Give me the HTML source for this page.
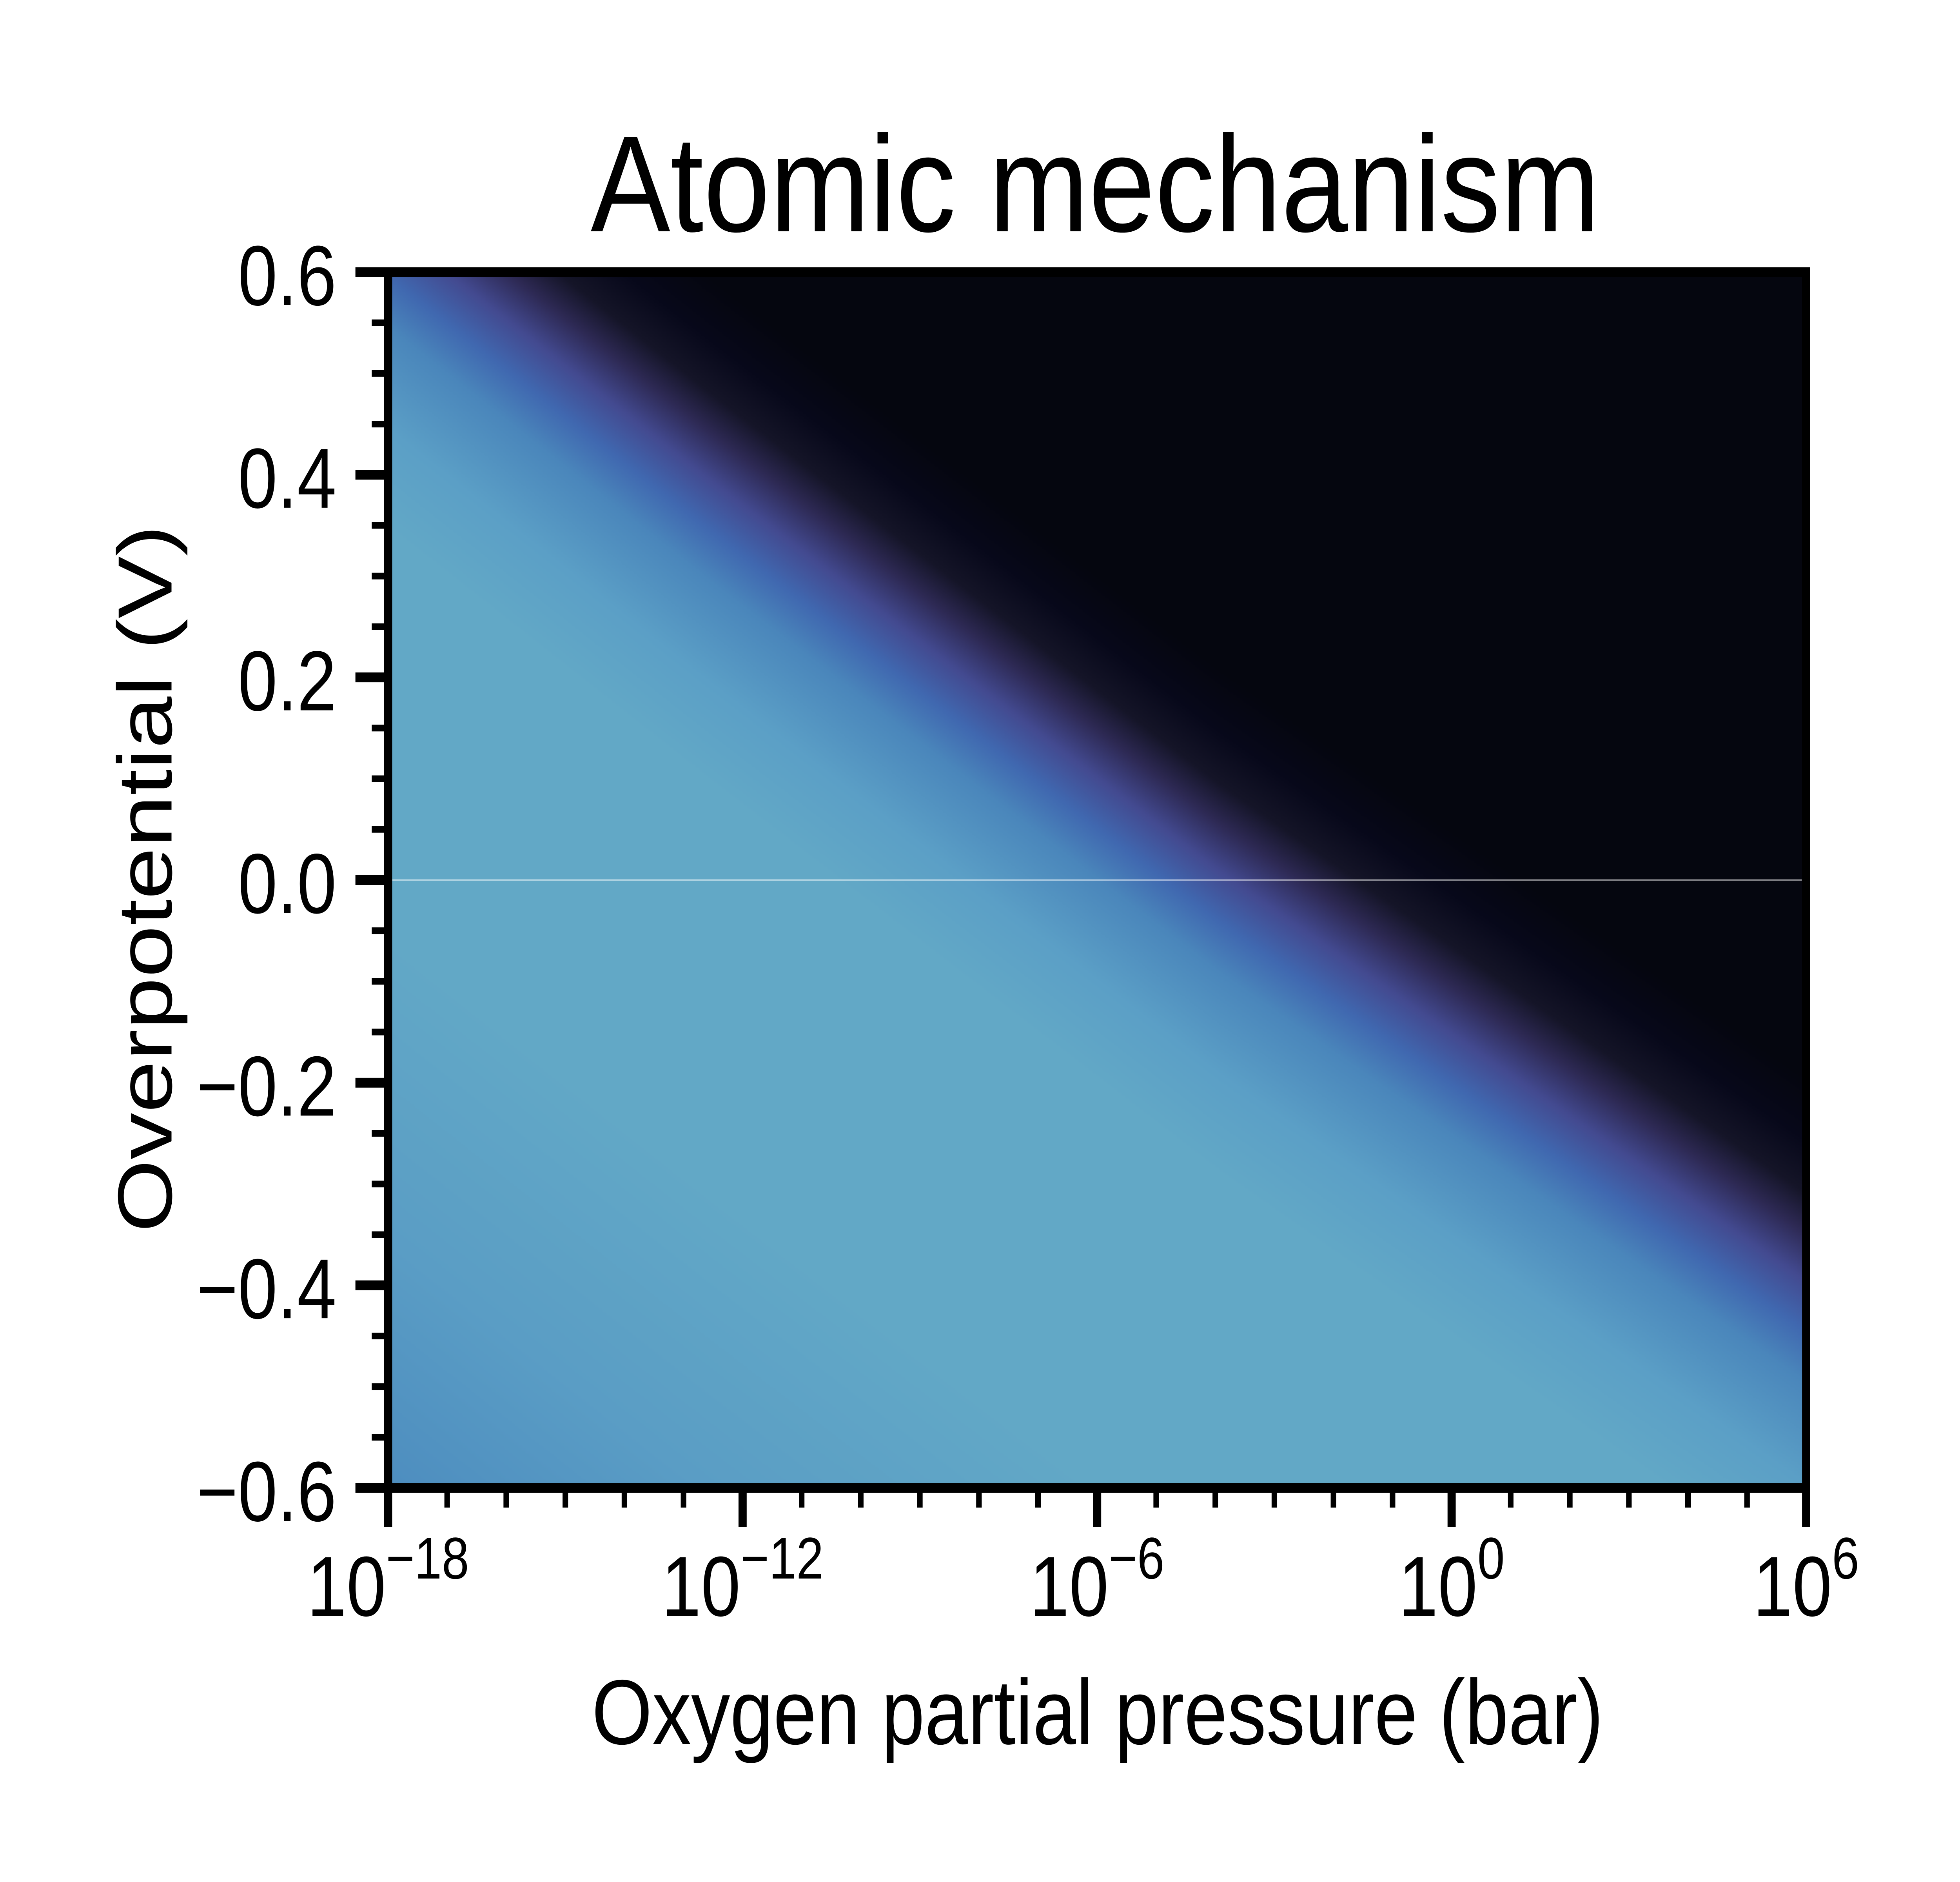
<!DOCTYPE html>
<html><head><meta charset="utf-8">
<style>
html,body{margin:0;padding:0;background:#fff;overflow:hidden;}
#root{position:absolute;left:0;top:0;width:6000px;height:4800px;overflow:hidden;background:#fff;transform-origin:0 0;}
#heat{position:absolute;left:1188px;top:694px;width:4341px;height:3101px;}
#ax{position:absolute;left:0;top:0;overflow:hidden;}
text{font-family:"Liberation Sans",sans-serif;fill:#000;}
</style></head>
<body>
<div id="root">
<canvas id="heat" width="1085" height="775"></canvas>
<svg id="ax" width="6000" height="4800"></svg>
</div>
<script>
// ---- data ----
const boundaryLogP = [-17, -12.65, -3.95, 6];
const boundaryEta = [0.6, 0.4, 0.01, -0.395];
const cmapD = [-1.25, -1.0, -0.7, -0.3, -0.2, -0.1, -0.05, 0, 0.046, 0.086, 0.139, 0.2, 2];
const cmapColors = ['#4d8dbf','#5a9dc5','#62a8c6','#62a8c6','#5b9fc6','#4a86bb','#4068b0','#434a90','#2e2a55','#151528','#07081a','#05060f','#05060f'];
const xMajorExp = [-18, -12, -6, 0, 6];
const xMajorSup = ['\u221218', '\u221212', '\u22126', '0', '6'];
const yMajor = [0.6, 0.4, 0.2, 0.0, -0.2, -0.4, -0.6];
const yMajorLabels = ['0.6', '0.4', '0.2', '0.0', '\u22120.2', '\u22120.4', '\u22120.6'];
const xMin = -18, xMax = 6, yMin = -0.6, yMax = 0.6;

// fit to viewport (no-op at 6000x4800)
(function(){
  const r = document.getElementById('root');
  const sx = (window.innerWidth || 6000) / 6000, sy = (window.innerHeight || 4800) / 4800;
  if (Math.abs(sx - 1) > 0.001 || Math.abs(sy - 1) > 0.001) r.style.transform = 'scale(' + sx + ',' + sy + ')';
})();

// ---- axes ----
const L = 1188, R = 5529, T = 694, B = 3795;
function xs(lp){ return L + (lp - xMin) / (xMax - xMin) * (R - L); }
function ys(v){ return B - (v - yMin) / (yMax - yMin) * (B - T); }

// ---- heatmap ----
function hex(c){ return [parseInt(c.substr(1,2),16), parseInt(c.substr(3,2),16), parseInt(c.substr(5,2),16)]; }
const cmapRGB = cmapColors.map(hex);
function boundary(lp){
  const n = boundaryLogP.length;
  let i = 0;
  if (lp <= boundaryLogP[0]) i = 0;
  else if (lp >= boundaryLogP[n-1]) i = n - 2;
  else { while (i < n - 2 && lp > boundaryLogP[i+1]) i++; }
  const t = (lp - boundaryLogP[i]) / (boundaryLogP[i+1] - boundaryLogP[i]);
  return boundaryEta[i] + t * (boundaryEta[i+1] - boundaryEta[i]);
}
function cmap(d){
  if (d <= cmapD[0]) return cmapRGB[0];
  for (let i = 0; i < cmapD.length - 1; i++) {
    if (d <= cmapD[i+1]) {
      const t = (d - cmapD[i]) / (cmapD[i+1] - cmapD[i]);
      const a = cmapRGB[i], b = cmapRGB[i+1];
      return [a[0]+(b[0]-a[0])*t, a[1]+(b[1]-a[1])*t, a[2]+(b[2]-a[2])*t];
    }
  }
  return cmapRGB[cmapRGB.length-1];
}
(function(){
  const cv = document.getElementById('heat');
  const ctx = cv.getContext('2d');
  const W = cv.width, H = cv.height;
  const img = ctx.createImageData(W, H);
  for (let j = 0; j < H; j++) {
    const eta = yMax - (j + 0.5) / H * (yMax - yMin);
    for (let i = 0; i < W; i++) {
      const lp = xMin + (i + 0.5) / W * (xMax - xMin);
      const c = cmap(eta - boundary(lp));
      const k = (j * W + i) * 4;
      img.data[k] = c[0]; img.data[k+1] = c[1]; img.data[k+2] = c[2]; img.data[k+3] = 255;
    }
  }
  ctx.putImageData(img, 0, 0);
})();

// ---- svg ----
const NS = 'http://www.w3.org/2000/svg';
const svg = document.getElementById('ax');
function mk(tag, attrs, parent){
  const e = document.createElementNS(NS, tag);
  for (const k in attrs) e.setAttribute(k, attrs[k]);
  (parent || svg).appendChild(e);
  return e;
}
// zero line
const zl = mk('line', {x1: L+13, x2: R-13, y1: ys(0), y2: ys(0), stroke: '#ffffff', 'stroke-opacity': 0.6, 'stroke-width': 3});



// y minor ticks
for (let k = -12; k <= 12; k++) {
  const v = k * 0.05;
  if (k % 4 === 0) continue;
  const t = mk('line', {x1: L - 50, x2: L, y1: ys(v), y2: ys(v), stroke: '#000', 'stroke-width': 17});
  
  
}
// y major ticks + labels
yMajor.forEach((v, i) => {
  const t = mk('line', {x1: L - 100, x2: L, y1: ys(v), y2: ys(v), stroke: '#000', 'stroke-width': 25});
  
  
  const tx = mk('text', {x: 1030, y: ys(v) + 84, 'text-anchor': 'end', 'font-size': 217});
  tx.textContent = yMajorLabels[i];
  
  
});
// x minor ticks
for (let e = xMin; e <= xMax; e++) {
  if (xMajorExp.indexOf(e) >= 0) continue;
  const t = mk('line', {x1: xs(e), x2: xs(e), y1: B, y2: B + 50, stroke: '#000', 'stroke-width': 17});
  
  
}
// x major ticks + labels
xMajorExp.forEach((e, i) => {
  const t = mk('line', {x1: xs(e), x2: xs(e), y1: B, y2: B + 100, stroke: '#000', 'stroke-width': 25});
  
  
  const tx = mk('text', {x: xs(e), y: 4121, 'text-anchor': 'middle', 'font-size': 217});
  
  
  const base = document.createElementNS(NS, 'tspan');
  base.textContent = '10';
  tx.appendChild(base);
  const sup = document.createElementNS(NS, 'tspan');
  sup.setAttribute('dy', -95);
  sup.setAttribute('font-size', 150);
  sup.textContent = xMajorSup[i];
  tx.appendChild(sup);
});
// spines
const fr = mk('rect', {x: L, y: T, width: R - L, height: B - T, fill: 'none', stroke: '#000', 'stroke-width': 25});



// title and axis labels
const title = mk('text', {x: 3353, y: 590, 'text-anchor': 'middle', 'font-size': 350, textLength: 3090, lengthAdjust: 'spacingAndGlyphs'});
title.textContent = 'Atomic mechanism';



const xl = mk('text', {x: 3360, y: 4448, 'text-anchor': 'middle', 'font-size': 235, textLength: 3097, lengthAdjust: 'spacingAndGlyphs'});
xl.textContent = 'Oxygen partial pressure (bar)';



const yl = mk('text', {x: 0, y: 0, 'text-anchor': 'middle', 'font-size': 235, textLength: 1804, lengthAdjust: 'spacingAndGlyphs', transform: 'translate(525,2241) rotate(-90)'});
yl.textContent = 'Overpotential (V)';


</script>
</body></html>
